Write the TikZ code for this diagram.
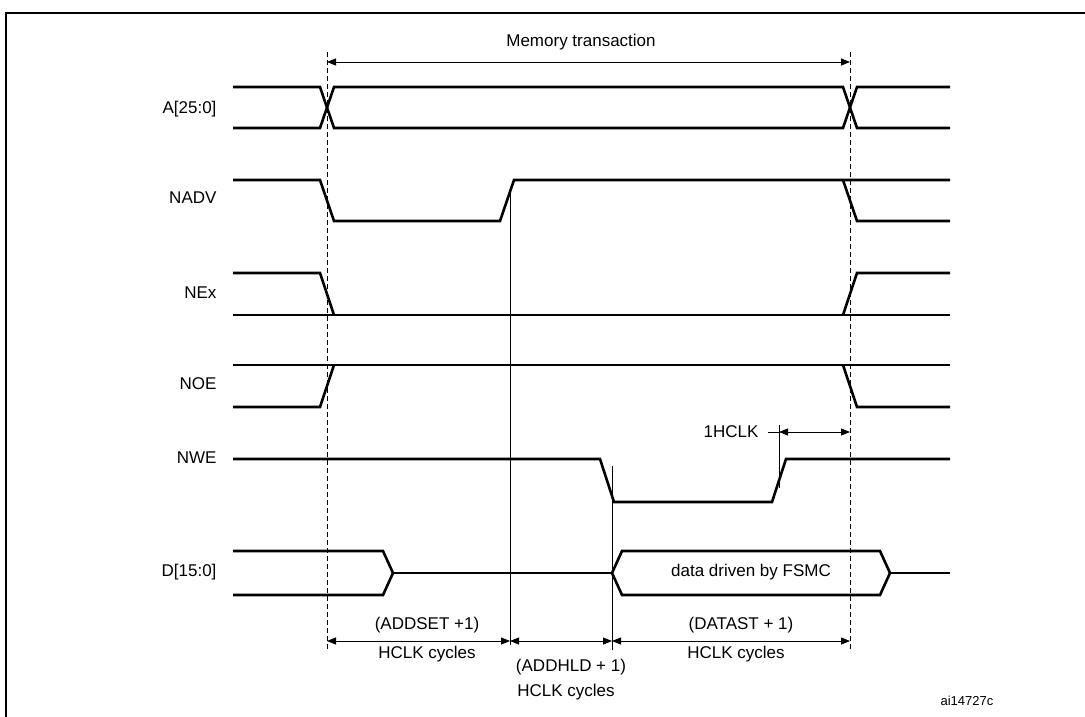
\documentclass[tikz,border=0pt]{standalone}
\usepackage{fontspec}
\setmainfont{Liberation Sans}
\usetikzlibrary{arrows.meta}
\begin{document}
\begin{tikzpicture}[x=1pt,y=-1pt,
  sig/.style={line width=2.6pt,line join=miter},
  thin/.style={line width=0.8pt},
  dashln/.style={line width=0.8pt,dash pattern=on 5pt off 3pt},
  dim/.style={line width=0.8pt,{Triangle[length=9pt,width=7pt]}-{Triangle[length=9pt,width=7pt]}},
  lab/.style={font=\fontsize{17}{19}\selectfont,anchor=east},
  txt/.style={font=\fontsize{17}{19}\selectfont}]
\useasboundingbox (0,0) rectangle (1085,717);
\draw[line width=2pt] (6,730) -- (6,13) -- (1095,13);
% guide lines
\draw[dashln] (327,52) -- (327,652);
\draw[dashln] (850,52) -- (850,652);
\draw[thin] (510,188) -- (510,645);
\draw[thin] (612,466) -- (612,650);
\draw[thin] (779,425) -- (779,488);
% labels
\node[lab] (la) at (220,109) {A[25:0]};
\node[lab] (lb) at (220,198) {NADV};
\node[lab] (lc) at (220,293) {NEx};
\node[lab] (ld) at (220,384) {NOE};
\node[lab] (le) at (220,458) {NWE};
\node[lab] (lf) at (220,572) {D[15:0]};
% A
\draw[sig] (233,87) -- (320,87) -- (334,128) -- (843,128) -- (857,87) -- (950,87);
\draw[sig] (233,128) -- (320,128) -- (334,87) -- (843,87) -- (857,128) -- (950,128);
% NADV
\draw[sig] (233,180) -- (320,180) -- (334,221) -- (500,221) -- (514,180) -- (950,180);
\draw[sig] (843,180) -- (857,221) -- (950,221);
% NEx
\draw[sig] (233,315) -- (950,315);
\draw[sig] (233,273) -- (320,273) -- (334,315);
\draw[sig] (843,315) -- (857,273) -- (950,273);
% NOE
\draw[sig] (233,365) -- (950,365);
\draw[sig] (233,407) -- (320,407) -- (334,365);
\draw[sig] (843,365) -- (857,407) -- (950,407);
% NWE
\draw[sig] (233,459) -- (600,459) -- (614,502) -- (772,502) -- (786,459) -- (950,459);
% D
\draw[sig] (233,551) -- (383,551) -- (393,573) -- (383,595) -- (233,595);
\draw[sig] (393,573) -- (612,573);
\draw[sig] (612,573) -- (622,551) -- (880,551) -- (890,573) -- (880,595) -- (622,595) -- cycle;
\draw[sig] (890,573) -- (950,573);
\node[txt] (dd) at (751,572) {data driven by FSMC};
% dims
\coordinate (m1) at (327,62); \coordinate (m2) at (850,62);
\draw[dim] (m1) -- (m2);
\node[txt] (mt) at (581,42) {Memory transaction};
\coordinate (h0) at (768,432); \coordinate (h1) at (779,432); \coordinate (h2) at (850,432);
\draw[thin] (h0) -- (h1);
\draw[dim] (h1) -- (h2);
\node[txt,anchor=east] (hl) at (762,432) {1HCLK};
\coordinate (b1) at (327,641); \coordinate (b2) at (510,641);
\coordinate (b3) at (612,641); \coordinate (b4) at (850,641);
\draw[dim] (b1) -- (b2);
\draw[dim] (b2) -- (b3);
\draw[dim] (b3) -- (b4);
\node[txt] (t1) at (427,625) {(ADDSET +1)};
\node[txt] (t2) at (427,654) {HCLK cycles};
\node[txt] (t3) at (571,667) {(ADDHLD + 1)};
\node[txt] (t4) at (566,692) {HCLK cycles};
\node[txt] (t5) at (741,625) {(DATAST + 1)};
\node[txt] (t6) at (736,654) {HCLK cycles};
\node[font=\fontsize{13}{15}\selectfont] (ai) at (967,701) {ai14727c};
\end{tikzpicture}
\end{document}
